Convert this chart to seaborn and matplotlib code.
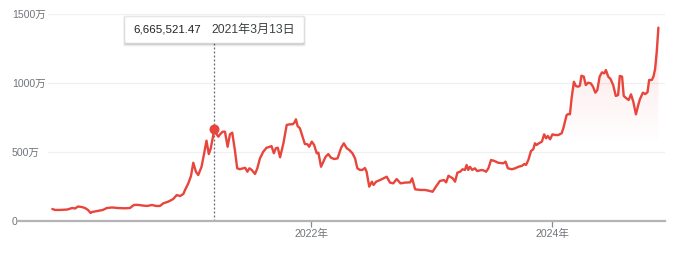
import numpy as np
import pandas as pd
import matplotlib
matplotlib.use("Agg")
import matplotlib.pyplot as plt
import matplotlib.dates as mdates
from matplotlib.patches import FancyBboxPatch
import seaborn as sns

# ---------------- data (values in 万円) ----------------
dates = [
"2019-11-08","2019-11-16","2019-12-01","2019-12-23","2020-01-07","2020-01-16","2020-01-25","2020-02-06","2020-02-15","2020-02-24",
"2020-03-03","2020-03-07","2020-03-22","2020-04-09","2020-04-21","2020-05-07","2020-05-25","2020-06-15","2020-06-30","2020-07-12",
"2020-07-24","2020-08-08","2020-08-21","2020-09-05","2020-09-17","2020-09-29","2020-10-09","2020-10-24","2020-11-08","2020-11-19",
"2020-11-29","2020-12-09","2020-12-14","2020-12-24","2021-01-01","2021-01-08","2021-01-16","2021-01-23","2021-02-02","2021-02-10",
"2021-02-17","2021-02-24","2021-03-02","2021-03-13","2021-03-18","2021-03-25","2021-03-30","2021-04-07","2021-04-14","2021-04-22",
"2021-04-29","2021-05-06","2021-05-14","2021-05-21","2021-05-29","2021-06-14","2021-06-21","2021-06-27","2021-07-04","2021-07-14",
"2021-07-21","2021-07-29","2021-08-08","2021-08-18","2021-08-28","2021-09-02","2021-09-09","2021-09-15","2021-09-21","2021-09-28",
"2021-10-08","2021-10-18","2021-10-28","2021-11-05","2021-11-10","2021-11-15","2021-11-20","2021-11-27","2021-12-05","2021-12-12",
"2021-12-20","2021-12-25","2022-01-02","2022-01-09","2022-01-17","2022-01-22","2022-01-30","2022-02-06","2022-02-13","2022-02-21",
"2022-03-01","2022-03-11","2022-03-21","2022-04-01","2022-04-09","2022-04-18","2022-04-26","2022-05-05","2022-05-13","2022-05-20",
"2022-05-28","2022-06-04","2022-06-12","2022-06-17","2022-06-25","2022-07-03","2022-07-08","2022-07-16","2022-07-28","2022-08-07",
"2022-08-17","2022-08-27","2022-09-06","2022-09-16","2022-09-28","2022-10-11","2022-10-27","2022-11-02","2022-11-11","2022-11-26",
"2022-12-11","2022-12-21","2023-01-03","2023-01-13","2023-01-25","2023-02-06","2023-02-13","2023-02-20","2023-03-05","2023-03-12",
"2023-03-19","2023-03-27","2023-04-04","2023-04-11","2023-04-16","2023-04-21","2023-04-26","2023-05-03","2023-05-11","2023-05-18",
"2023-06-01","2023-06-09","2023-06-14","2023-06-21","2023-06-29","2023-07-09","2023-07-21","2023-08-05","2023-08-12","2023-08-19",
"2023-08-31","2023-09-10","2023-09-20","2023-09-30","2023-10-08","2023-10-13","2023-10-20","2023-10-28","2023-11-04","2023-11-09",
"2023-11-14","2023-11-21","2023-11-30","2023-12-07","2023-12-13","2023-12-18","2023-12-25","2024-01-01","2024-01-09","2024-01-19",
"2024-01-29","2024-02-03","2024-02-08","2024-02-13","2024-02-18","2024-02-23","2024-02-28","2024-03-06","2024-03-12","2024-03-19",
"2024-03-24","2024-03-29","2024-04-05","2024-04-11","2024-04-18","2024-04-26","2024-05-03","2024-05-10","2024-05-16","2024-05-23",
"2024-05-30","2024-06-06","2024-06-11","2024-06-18","2024-06-25","2024-07-03","2024-07-11","2024-07-18","2024-07-23","2024-07-30",
"2024-08-04","2024-08-12","2024-08-19","2024-08-26","2024-09-02","2024-09-10","2024-09-17","2024-09-22","2024-10-01","2024-10-08",
"2024-10-15","2024-10-20","2024-10-28","2024-11-02","2024-11-07","2024-11-12","2024-11-17"]

values = [
87, 80, 80, 83, 94, 91, 105, 101, 94, 80,
58, 65, 72, 80, 94, 98, 94, 92, 94, 116,
117, 112, 109, 116, 109, 109, 128, 140, 159, 188,
181, 196, 225, 273, 326, 422, 357, 333, 393, 491,
582, 485, 527, 666.552147, 635, 611, 628, 647, 647, 538,
628, 640, 514, 382, 375, 386, 357, 382, 370, 341,
382, 454, 502, 531, 538, 543, 491, 527, 531, 462,
563, 696, 701, 701, 712, 737, 688, 672, 611, 558,
556, 538, 575, 551, 491, 495, 393, 430, 466, 485,
459, 449, 454, 531, 563, 527, 514, 491, 454, 382,
370, 370, 384, 357, 249, 285, 261, 285, 297, 309,
321, 278, 273, 304, 273, 278, 280, 309, 230, 225,
225, 220, 212, 249, 290, 297, 280, 328, 309, 285,
350, 357, 375, 370, 406, 370, 393, 370, 382, 362,
370, 364, 357, 382, 442, 435, 422, 418, 430, 382,
375, 382, 393, 399, 413, 406, 442, 507, 520, 563,
551, 563, 575, 628, 599, 616, 592, 628, 623, 623,
636, 672, 720, 768, 775, 773, 889, 1009, 978, 973,
980, 1053, 1046, 985, 1002, 998, 973, 930, 949, 1046,
1077, 1070, 1094, 1046, 1029, 985, 906, 913, 1051, 1046,
906, 889, 877, 918, 864, 773, 841, 882, 930, 920,
933, 1022, 1022, 1046, 1101, 1227, 1401]

y_ticks = [0, 500, 1000, 1500]
y_tick_labels = ["0", "500万", "1000万", "1500万"]
x_ticks = ["2022-01-01", "2024-01-01"]
x_tick_labels = ["2022年", "2024年"]

hover_date = "2021-03-13"
hover_value = 666.552147
hover_value_text = "6,665,521.47"
hover_date_text = "2021年3月13日"

x_range = ["2019-07-27", "2024-12-07"]

assert len(dates) == len(values)

# ---------------- style ----------------
sns.set_theme(style="white")
FONT = ["Liberation Sans", "Noto Sans CJK SC", "DejaVu Sans"]
plt.rcParams["font.family"] = FONT

RED = "#e8453c"
GRAY_TXT = "#70757a"

W, H = 677, 254
fig = plt.figure(figsize=(W / 100, H / 100), dpi=100)
ax_l, ax_r, ax_t, ax_b = 18, 665, 14, 221
ax = fig.add_axes([ax_l / W, (H - ax_b) / H, (ax_r - ax_l) / W, (ax_b - ax_t) / H])

df = pd.DataFrame({"date": pd.to_datetime(dates), "value": values})

# gradient fill under the line
x0 = mdates.date2num(pd.Timestamp(x_range[0]))
x1 = mdates.date2num(pd.Timestamp(x_range[1]))
poly = ax.fill_between(df["date"], df["value"], 0, color="none", lw=0)
ny = 300
yy = np.linspace(0, 1500, ny)
alpha = np.clip((yy - 560) / (1500 - 560), 0, 1) * 0.17
rgba = np.zeros((ny, 1, 4))
rgba[..., 0] = 0.91
rgba[..., 1] = 0.27
rgba[..., 2] = 0.24
rgba[:, 0, 3] = alpha
img = ax.imshow(rgba, extent=[x0, x1, 0, 1500], origin="lower", aspect="auto",
                zorder=1, interpolation="bilinear")
img.set_clip_path(poly.get_paths()[0], transform=ax.transData)

# gridlines (start after the labels)
grid_start = (48 - ax_l) / (ax_r - ax_l)
for v in y_ticks[1:]:
    ax.axhline(v, xmin=grid_start, xmax=1, color="#f0f0f0", lw=0.9, zorder=0)

# main line
sns.lineplot(data=df, x="date", y="value", ax=ax, color=RED, linewidth=1.7,
             zorder=3, legend=False)

# hover line + marker
hd = pd.Timestamp(hover_date)
ax.vlines(hd, 0, 1297, color="#6f6f6f", lw=0.9, linestyles=(0, (1.6, 1.6)), zorder=2)
ax.plot([hd], [hover_value], "o", color=RED, markersize=6.2, zorder=4, mec=RED)

# axes limits / ticks
ax.set_xlim(pd.Timestamp(x_range[0]), pd.Timestamp(x_range[1]))
ax.set_ylim(0, 1500)
ax.set_xlabel("")
ax.set_ylabel("")
for s in ["top", "right", "left"]:
    ax.spines[s].set_visible(False)
ax.spines["bottom"].set_color("#b3b3b8")
ax.spines["bottom"].set_linewidth(1.6)
ax.spines["bottom"].set_zorder(5)

ax.set_yticks(y_ticks)
ax.set_yticklabels(y_tick_labels)
ax.tick_params(axis="y", length=0, pad=4.3, labelsize=7.6, labelcolor=GRAY_TXT)
for lab in ax.get_yticklabels():
    lab.set_horizontalalignment("left")
    lab.set_family(FONT)

ax.set_xticks(pd.to_datetime(x_ticks))
ax.set_xticklabels(x_tick_labels)
ax.tick_params(axis="x", length=4, width=0.9, color="#8a8a8e", pad=1.5,
               labelsize=7.6, labelcolor=GRAY_TXT, direction="out")
for lab in ax.get_xticklabels():
    lab.set_family(FONT)
ax.xaxis.set_ticks_position("bottom")
ax.set_facecolor("white")
ax.grid(False)

# tooltip box (figure pixel coordinates)
def fx(px):
    return px / W

def fy(py):
    return (H - py) / H

bx0, bx1, by0, by1 = 125, 304, 17, 43
for off, a in [(2.5, 0.05), (1.5, 0.07), (0.7, 0.09)]:
    sh = FancyBboxPatch((fx(bx0 - off + 0.5), fy(by1 + off + 1)),
                        fx(bx1 - bx0 + 2 * off - 1), (by1 - by0 + 2 * off) / H,
                        boxstyle="round,pad=0,rounding_size=0.004",
                        transform=fig.transFigure, facecolor="black", alpha=a,
                        edgecolor="none", zorder=8)
    fig.patches.append(sh)
box = FancyBboxPatch((fx(bx0), fy(by1)), fx(bx1 - bx0), (by1 - by0) / H,
                     boxstyle="round,pad=0,rounding_size=0.003",
                     transform=fig.transFigure, facecolor="white",
                     edgecolor="#e6e6e6", lw=0.5, zorder=9)
fig.patches.append(box)

fig.text(fx(133), fy(30), hover_value_text, fontsize=8.25, color="#202124",
         ha="left", va="center", family=FONT, zorder=10)
fig.text(fx(211), fy(30), hover_date_text, fontsize=8.7, color="#3c4043",
         ha="left", va="center", family=FONT, zorder=10)

fig.savefig("out.png", dpi=100, facecolor="white")
